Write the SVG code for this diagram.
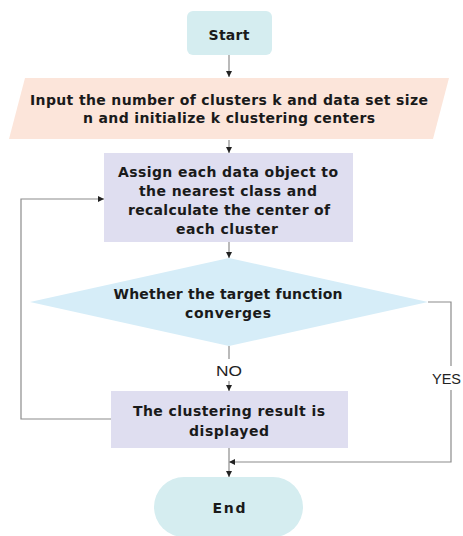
<svg xmlns="http://www.w3.org/2000/svg" width="463" height="536" viewBox="0 0 463 536">
<defs>
<marker id="ah" viewBox="0 0 6 6" refX="6" refY="3" markerWidth="6" markerHeight="6" markerUnits="userSpaceOnUse" orient="auto">
<path d="M0,0 L6,3 L0,6 z" fill="#222"/>
</marker>
<style>
.t{font-family:"DejaVu Sans","Liberation Sans",Arial,sans-serif;font-weight:bold;font-size:14px;fill:#1a1a1a;text-anchor:middle}
.l{font-family:"Liberation Sans",Arial,sans-serif;font-size:15px;fill:#222;text-anchor:middle}
.c{fill:none;stroke:#8c8c8c;stroke-width:1.2}
.a{marker-end:url(#ah)}
</style>
</defs>
<rect width="463" height="536" fill="#fff"/>
<g id="connectors">
<line class="c a" x1="229" y1="55" x2="229" y2="77"/>
<line class="c a" x1="229" y1="140" x2="229" y2="153"/>
<line class="c a" x1="229" y1="242" x2="229" y2="258"/>
<line class="c" x1="229" y1="346" x2="229" y2="359"/>
<line class="c a" x1="229" y1="381" x2="229" y2="391"/>
<polyline class="c a" points="111,419 21,419 21,199 104,199"/>
<polyline class="c" points="428,302 451,302 451,366"/>
<polyline class="c a" points="451,390 451,462 229,462"/>
<line class="c a" x1="229" y1="448" x2="229" y2="477"/>
<text class="l" x="229" y="376" textLength="26" lengthAdjust="spacingAndGlyphs">NO</text>
<text class="l" x="432" y="384" style="text-anchor:start" textLength="29" lengthAdjust="spacingAndGlyphs">YES</text>
</g>
<g id="start">
<rect x="187" y="11" width="85" height="44" rx="6" fill="#D5EDF0"/>
<text class="t" x="229" y="40" textLength="41">Start</text>
</g>
<g id="input">
<polygon points="25,78 449,78 433,139 9,139" fill="#FCE5DA"/>
<text class="t" x="229" y="105" textLength="398">Input the number of clusters k and data set size</text>
<text class="t" x="229" y="123" textLength="292">n and initialize k clustering centers</text>
</g>
<g id="assign">
<rect x="104" y="153" width="249" height="89" fill="#DFDEF0"/>
<text class="t" x="228" y="177" textLength="220">Assign each data object to</text>
<text class="t" x="228" y="196" textLength="178">the nearest class and</text>
<text class="t" x="229" y="215" textLength="202">recalculate the center of</text>
<text class="t" x="227" y="234" textLength="102">each cluster</text>
</g>
<g id="decision">
<polygon points="229,258 428,302 229,346 30,302" fill="#D6EDF8"/>
<text class="t" x="228" y="299" textLength="229">Whether the target function</text>
<text class="t" x="228" y="318" textLength="86">converges</text>
</g>
<g id="result">
<rect x="111" y="391" width="237" height="57" fill="#DFDEF0"/>
<text class="t" x="229" y="416" textLength="192">The clustering result is</text>
<text class="t" x="229" y="436" textLength="80">displayed</text>
</g>
<g id="end">
<rect x="154" y="477" width="149" height="60" rx="30" fill="#D5EDF0"/>
<text class="t" x="229" y="513" textLength="33">End</text>
</g>
</svg>
